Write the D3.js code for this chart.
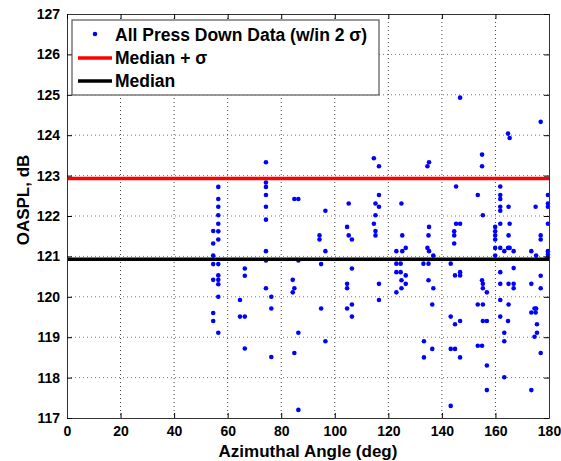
<!DOCTYPE html>
<meta charset="utf-8">
<script src="https://d3js.org/d3.v7.min.js"></script>
<style>
  body { margin: 0; background: #fff; }
  text { font-family: "Liberation Sans", Arial, sans-serif; font-weight: bold; }
</style>
<div id="my_dataviz"></div>
<script>

// azimuth angles where press-down measurements were taken (deg)
var azimuths = [54.6, 56.5, 64.6, 66.4, 74.3, 76.3, 84.3, 84.9, 86.4, 94.3, 94.9, 96.5,
  104.6, 105.2, 106.4, 114.6, 115.2, 116.5, 123.0, 124.6, 124.9, 125.2, 126.5,
  133.1, 133.3, 134.6, 135.0, 135.2, 136.4, 136.8, 143.3, 144.6, 144.9, 145.3, 146.8,
  153.4, 155.0, 155.3, 156.8, 159.9, 161.8, 163.3, 164.7, 164.9, 165.3, 166.8,
  173.4, 174.6, 175.0, 175.2, 175.5, 176.9, 179.6];

// OASPL values (dB) measured at each azimuth above
var oasplByAzimuth = [
  [121.63, 121.32, 121.02, 120.81, 120.42, 119.60, 119.40],
  [122.72, 122.42, 122.23, 122.02, 121.81, 121.62, 121.42, 120.81, 120.53, 120.42, 120.31, 120.00, 119.11],
  [119.92, 119.51],
  [120.70, 120.52, 119.51, 118.72],
  [123.33, 122.83, 122.72, 122.52, 122.23, 121.91, 121.13, 120.90, 120.21],
  [120.00, 119.71, 118.51],
  [120.42, 120.11],
  [122.42, 120.21, 118.61],
  [122.42, 120.90, 119.11, 117.20],
  [121.52, 121.42],
  [120.81, 119.71],
  [122.13, 121.13, 118.90],
  [121.73, 120.32, 120.21, 119.71],
  [122.31, 121.52],
  [121.42, 120.70, 119.81, 119.51],
  [123.43, 121.81],
  [122.31, 122.02, 121.63, 121.52],
  [123.23, 122.52, 122.23, 120.32, 119.92],
  [121.13, 120.82, 120.61, 120.11],
  [120.82, 120.61],
  [122.31, 120.41, 120.21],
  [121.52, 121.13],
  [121.21, 120.53, 120.32],
  [120.82],
  [118.90, 118.50],
  [123.23, 121.21],
  [121.52, 120.82, 120.41],
  [123.33, 121.73, 121.13],
  [119.81, 118.71],
  [121.02, 120.21],
  [120.82, 119.51, 118.71, 117.30],
  [121.62, 121.52, 121.32],
  [120.53, 119.32, 118.71],
  [122.73, 121.81],
  [124.93, 121.81, 120.61, 120.53, 119.40, 118.50],
  [122.52, 119.81, 118.79],
  [123.52, 123.23, 120.41, 118.79],
  [122.02, 120.32, 120.21, 119.81, 119.40],
  [120.11, 119.40, 118.30, 117.69],
  [121.73, 121.62, 121.52, 121.42, 121.21, 121.02],
  [122.73, 122.52, 122.42, 122.23, 122.13, 121.81, 121.21, 120.61, 120.32, 119.92, 119.51],
  [121.13, 119.11, 118.90, 118.01],
  [124.04, 121.21, 119.40],
  [122.23, 121.52, 120.32, 119.81],
  [123.93, 121.81, 121.21],
  [121.13, 120.71, 120.32, 120.21],
  [121.13, 120.32, 119.61, 117.69],
  [119.71, 119.01],
  [122.23, 119.61],
  [121.02, 119.71],
  [119.32, 119.11],
  [124.33, 121.52, 121.42, 120.52, 120.21, 118.61],
  [122.52, 122.31, 122.23, 121.81, 121.13, 121.05, 120.98]
];

var medianDb = 120.93;
var medianPlusSigmaDb = 122.93;

var xTicks = [0, 20, 40, 60, 80, 100, 120, 140, 160, 180];
var yTicks = [117, 118, 119, 120, 121, 122, 123, 124, 125, 126, 127];

var legendLabels = ["All Press Down Data (w/in 2 \u03c3)", "Median + \u03c3", "Median"];

// flatten into points
var points = [];
azimuths.forEach(function (a, i) {
  oasplByAzimuth[i].forEach(function (v) { points.push({angle: a, db: v}); });
});

// set the dimensions and margins of the graph
var margin = {top: 14, right: 12, bottom: 43, left: 67},
    width = 561 - margin.left - margin.right,
    height = 461 - margin.top - margin.bottom;

var svg = d3.select("#my_dataviz")
  .append("svg")
    .attr("width", 561)
    .attr("height", 461)
  .append("g")
    .attr("transform", "translate(" + margin.left + "," + margin.top + ")");

var x = d3.scaleLinear().domain([0, 180]).range([0, width]);
var y = d3.scaleLinear().domain([117, 127]).range([height, 0]);

// dotted grid
svg.append("g")
  .selectAll("line")
  .data(xTicks.slice(1, -1))
  .enter().append("line")
    .attr("x1", function (d) { return x(d); })
    .attr("x2", function (d) { return x(d); })
    .attr("y1", 0).attr("y2", height)
    .attr("stroke", "#444").attr("stroke-width", 1)
    .attr("stroke-dasharray", "1,3");
svg.append("g")
  .selectAll("line")
  .data(yTicks.slice(1, -1))
  .enter().append("line")
    .attr("y1", function (d) { return y(d); })
    .attr("y2", function (d) { return y(d); })
    .attr("x1", 0).attr("x2", width)
    .attr("stroke", "#777").attr("stroke-width", 1)
    .attr("stroke-dasharray", "1,3");

// data points
svg.append("g")
  .selectAll("circle")
  .data(points)
  .enter().append("circle")
    .attr("cx", function (d) { return x(d.angle); })
    .attr("cy", function (d) { return y(d.db); })
    .attr("r", 2.3)
    .style("fill", "#0000ff");

// median lines
svg.append("line")
  .attr("x1", x(0)).attr("x2", x(180))
  .attr("y1", y(medianPlusSigmaDb)).attr("y2", y(medianPlusSigmaDb))
  .attr("stroke", "#ff0000").attr("stroke-width", 3.5);
svg.append("line")
  .attr("x1", x(0)).attr("x2", x(180))
  .attr("y1", y(medianDb)).attr("y2", y(medianDb))
  .attr("stroke", "#000").attr("stroke-width", 3.5);

// axes with inward ticks
svg.append("g")
  .attr("transform", "translate(0," + height + ")")
  .call(d3.axisBottom(x).tickValues(xTicks).tickSizeInner(-5).tickSizeOuter(0).tickPadding(8));
svg.append("g")
  .call(d3.axisLeft(y).tickValues(yTicks).tickSizeInner(-5).tickSizeOuter(0).tickPadding(7));
svg.append("g")
  .call(d3.axisTop(x).tickValues(xTicks).tickSizeInner(-5).tickSizeOuter(0).tickFormat(""));
svg.append("g")
  .attr("transform", "translate(" + width + ",0)")
  .call(d3.axisRight(y).tickValues(yTicks).tickSizeInner(-5).tickSizeOuter(0).tickFormat(""));

svg.selectAll(".tick text")
  .style("font-size", "14px")
  .style("font-family", "'Liberation Sans', Arial, sans-serif")
  .style("font-weight", "bold")
  .attr("fill", "#000");
svg.selectAll(".domain").attr("stroke", "#333");

// legend
var leg = svg.append("g").attr("transform", "translate(" + (72 - margin.left) + "," + (20 - margin.top) + ")");
leg.append("rect")
  .attr("width", 307).attr("height", 75)
  .attr("fill", "#fff").attr("stroke", "#555").attr("stroke-width", 1.2);
var rowY = [15, 38, 61];
leg.append("circle").attr("cx", 23).attr("cy", rowY[0] - 1).attr("r", 2.3).style("fill", "#0000ff");
leg.append("line").attr("x1", 6).attr("x2", 40).attr("y1", rowY[1]).attr("y2", rowY[1])
  .attr("stroke", "#ff0000").attr("stroke-width", 3.5);
leg.append("line").attr("x1", 6).attr("x2", 40).attr("y1", rowY[2]).attr("y2", rowY[2])
  .attr("stroke", "#000").attr("stroke-width", 3.5);
leg.selectAll("text.lbl")
  .data(legendLabels)
  .enter().append("text")
    .attr("class", "lbl")
    .attr("x", 43)
    .attr("y", function (d, i) { return rowY[i] + 6; })
    .style("font-size", "17.5px")
    .text(function (d) { return d; });

// axis labels
svg.append("text")
  .attr("text-anchor", "middle")
  .attr("x", width / 2)
  .attr("y", height + 39)
  .style("font-size", "17px")
  .text("Azimuthal Angle (deg)");

svg.append("text")
  .attr("text-anchor", "middle")
  .attr("transform", "rotate(-90)")
  .attr("x", -(200 - margin.top))
  .attr("y", -margin.left + 29)
  .style("font-size", "17px")
  .text("OASPL, dB");

</script>
